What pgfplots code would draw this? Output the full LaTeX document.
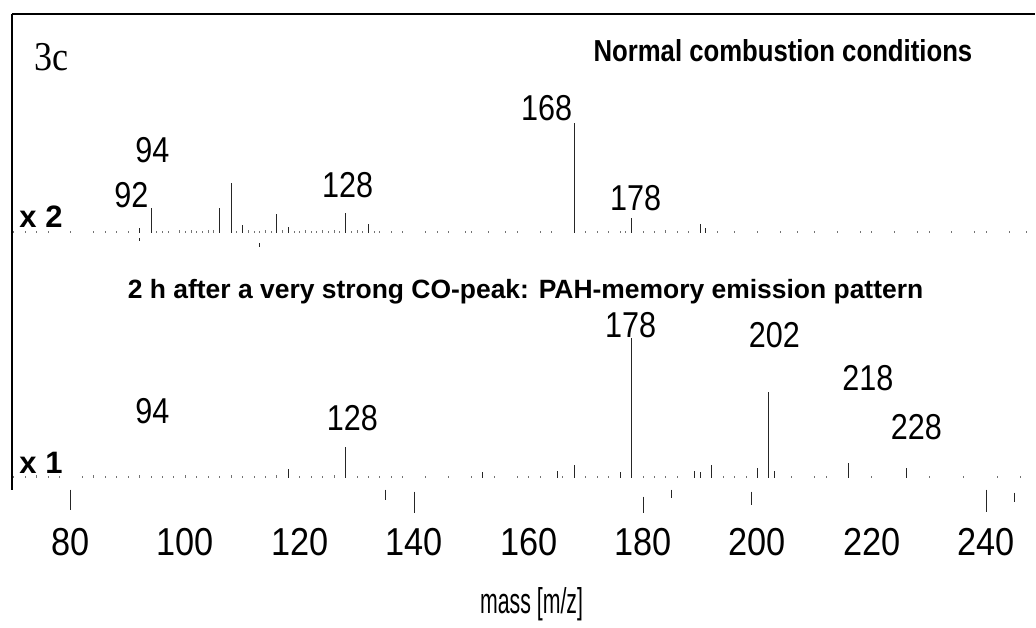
\documentclass[border=0pt]{standalone}
\usepackage{pgfplots}
\pgfplotsset{compat=1.18}
\usepackage{pgfplotstable}
\usepackage{graphicx}
\usepackage{fontspec}
\setmainfont{Liberation Sans}
\newfontfamily\numfam[FakeStretch=0.85]{Liberation Sans}
\newfontfamily\tickfam[FakeStretch=0.88]{Liberation Sans}
\newfontfamily\serfam[FakeStretch=0.88]{Liberation Serif}
\newcommand\pk{\numfam\fontsize{36}{36}\selectfont}
\newcommand\tk{\tickfam\fontsize{39}{39}\selectfont}

% upper spectrum: normal combustion conditions (x 2)
\pgfplotstableread{
m i
92 5
94 25
106 25
108 50
110 8
116 19
118 6
128 20
132 9
168 110
178 15
190 9
191 5
}\upperpeaks
\pgfplotstableread{
m i
70 2
72 2
74 2
76 2
80 2
84 2
86 2
88 2
90 2
95 2
96 2
97 2
99 3
100 2
101 3
102 2
103 2
104 3
105 3
109 2
111 3
112 2
113 2
114 3
115 2
117 3
119 2
120 2
121 3
122 2
123 2
124 3
125 2
126 3
127 2
129 2
130 3
131 2
133 2
134 2
136 2
138 2
142 2
144 2
146 2
149 2
150 2
153 2
156 2
158 2
162 2
164 2
170 2
172 2
174 2
176 2
177 2
180 2
182 2
184 3
186 2
188 2
193 2
196 2
200 2
204 2
207 2
210 2
214 2
218 2
220 2
224 2
228 2
230 2
234 2
238 2
240 2
244 2
247 2
}\uppernoise

% lower spectrum: 2 h after a very strong CO peak (x 1)
\pgfplotstableread{
m i
118 9
128 31
152 6
165 7
168 13
176 6
178 140
189 7
190 6
192 13
200 10
202 86
203 7
216 15
226 10
}\lowerpeaks
\pgfplotstableread{
m i
70 2
72 2
74 3
76 2
78 2
82 2
84 3
86 2
88 2
90 2
92 3
94 2
96 2
98 2
100 3
102 2
104 2
106 2
108 3
110 2
112 2
114 2
116 3
120 2
122 2
124 2
126 3
130 2
132 2
134 2
136 2
138 2
142 2
146 2
150 2
154 2
158 2
160 2
162 2
166 2
170 2
172 2
174 2
180 2
182 2
184 2
186 2
194 2
196 2
198 2
206 2
210 2
212 2
220 2
230 2
236 2
242 2
246 2
}\lowernoise

\pgfplotsset{
  spec/.style={ycomb, no markers, black!85, line width=1pt},
  noise/.style={ycomb, no markers, black!55, line width=1pt},
  base/.style={scale only axis, width=1024pt, xmin=69.69, xmax=248.56,
    clip=false, ytick=\empty, axis line style={line width=1.5pt,-}},
}

\begin{document}
\begin{tikzpicture}
\begin{axis}[base, name=up, at={(0pt,0pt)}, anchor=north west,
  height=236pt, ymin=-17, ymax=219,
  axis x line*=top, axis y line*=left, xtick=\empty]
  \addplot[noise] table[x=m,y=i] {\uppernoise};
  \addplot[spec] table[x=m,y=i] {\upperpeaks};
  \addplot[black!85, line width=1pt, unbounded coords=jump] coordinates
    {(92,-5) (92,-8) (92,nan) (113,-10) (113,-14)};
  \node[anchor=west, inner sep=0pt] at (axis cs:73.6,176) {\serfam\fontsize{41}{41}\selectfont 3c};
  \node[inner sep=0pt] at (axis cs:204.45,182) {\resizebox{379pt}{22pt}{\bfseries Normal combustion conditions}};
  \node[inner sep=0pt] at (axis cs:94.23,83) {\pk 94};
  \node[inner sep=0pt] at (axis cs:90.56,38) {\pk 92};
  \node[inner sep=0pt] at (axis cs:128.38,48) {\pk 128};
  \node[inner sep=0pt] at (axis cs:163.14,125) {\pk 168};
  \node[inner sep=0pt] at (axis cs:178.69,35) {\pk 178};
  \node[inner sep=0pt] at (axis cs:74.76,16) {\fontsize{31}{31}\selectfont\bfseries x 2};
\end{axis}
\begin{axis}[base, at={(0pt,-236pt)}, anchor=north west,
  height=240pt, ymin=-12, ymax=228,
  axis y line*=left, axis x line*=bottom, x axis line style={draw=none},
  xtick={80,100,...,240}, xticklabels={80,100,120,140,160,180,200,220,240},
  major tick length=0pt,
  xticklabel style={font=\tk, anchor=center, yshift=-52pt}]
  \addplot[noise] table[x=m,y=i] {\lowernoise};
  \addplot[spec] table[x=m,y=i] {\lowerpeaks};
  \addplot[black!85, line width=1pt, unbounded coords=jump] coordinates
    {(80,-12) (80,-32) (80,nan) (135,-12) (135,-22) (135,nan)
     (140,-14) (140,-35) (140,nan) (180,-19) (180,-35) (180,nan)
     (185,-12) (185,-20) (185,nan) (199,-14) (199,-27) (199,nan)
     (240,-12) (240,-34) (240,nan) (245,-15) (245,-24)};
  \node[inner sep=0pt] at (axis cs:159.47,186) {\resizebox{796pt}{!}{\bfseries 2 h after a very strong CO-peak: PAH-memory emission pattern}};
  \node[inner sep=0pt] at (axis cs:94.23,67) {\pk 94};
  \node[inner sep=0pt] at (axis cs:129.17,60) {\pk 128};
  \node[inner sep=0pt] at (axis cs:177.82,153) {\pk 178};
  \node[inner sep=0pt] at (axis cs:202.97,143) {\pk 202};
  \node[inner sep=0pt] at (axis cs:219.30,100) {\pk 218};
  \node[inner sep=0pt] at (axis cs:227.77,51) {\pk 228};
  \node[inner sep=0pt] at (axis cs:74.76,15) {\fontsize{31}{31}\selectfont\bfseries x 1};
  \node[inner sep=0pt] at (axis cs:160.52,-127) {\resizebox{103pt}{26pt}{mass [m/z]}};
\end{axis}
\path (-12pt,14pt) rectangle (1024pt,-614pt);
\end{tikzpicture}
\end{document}
